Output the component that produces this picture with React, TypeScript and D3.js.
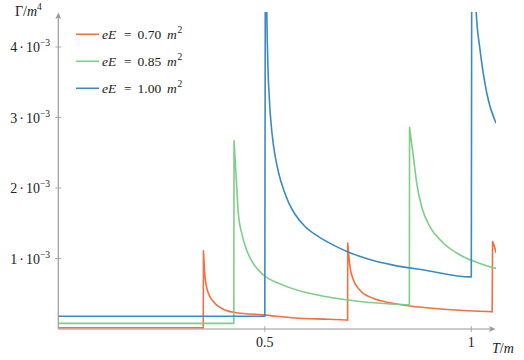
import React from "react";
import * as d3 from "d3";

// values in units of 1e-3 m^4 ; T in units of m
const redT = [0, 0.351, 0.3515, 0.3552, 0.3632, 0.3753, 0.3995, 0.4318, 0.4963, 0.573, 0.654, 0.698, 0.7005, 0.7008, 0.7063, 0.7143, 0.7305, 0.7627, 0.8031, 0.8516, 0.9242, 1.0048, 1.0494, 1.0505, 1.0515, 1.0545, 1.06];
const redV = [0.018, 0.018, 1.11, 0.74, 0.51, 0.39, 0.28, 0.23, 0.2, 0.156, 0.138, 0.128, 0.126, 1.22, 0.88, 0.7, 0.55, 0.435, 0.373, 0.326, 0.284, 0.255, 0.245, 0.243, 1.24, 1.2, 1.08];
const greenT = [0, 0.425, 0.4255, 0.432, 0.4358, 0.444, 0.456, 0.472, 0.496, 0.537, 0.5973, 0.646, 0.7305, 0.85, 0.8505, 0.8596, 0.8678, 0.88, 0.9, 0.932, 0.9726, 1.021, 1.06];
const greenV = [0.08, 0.08, 2.67, 2.02, 1.64, 1.36, 1.12, 0.93, 0.77, 0.64, 0.52, 0.46, 0.39, 0.34, 2.86, 2.45, 2.07, 1.73, 1.45, 1.22, 1.05, 0.93, 0.86];
const blueT = [0, 0.5, 0.502, 0.5045, 0.507, 0.5111, 0.5174, 0.5254, 0.5337, 0.5458, 0.558, 0.574, 0.598, 0.63, 0.6627, 0.703, 0.7516, 0.808, 0.892, 0.9969, 1.0, 1.002, 1.0114, 1.0211, 1.0373, 1.06];
const blueV = [0.18, 0.18, 8.0, 4.7, 3.86, 3.25, 2.78, 2.44, 2.21, 1.97, 1.79, 1.62, 1.45, 1.31, 1.2, 1.09, 0.99, 0.91, 0.83, 0.74, 0.74, 9.0, 4.55, 3.96, 3.35, 2.92];

const seriesNames = ["0.70", "0.85", "1.00"];
const seriesColors = ["#f46d43", "#7fcd86", "#3a8ac4"];
const xTicks = [0.5, 1];
const xTickLabels = ["0.5", "1"];
const yTicks = [1, 2, 3, 4];

const W = 524, H = 360;
const x = d3.scaleLinear().domain([0, 1]).range([58.3, 471.3]);
const y = d3.scaleLinear().domain([0, 1]).range([329, 258.5]);
const clipTop = 12;
const xEnd = 496;

function buildPath(ts: number[], vs: number[]): string {
  const pts = ts.map((t, i) => [t, vs[i]] as [number, number]);
  const pieces: [number, number][][] = [];
  let cur: [number, number][] = [];
  pts.forEach((p, i) => {
    if (i > 0 && p[0] - pts[i - 1][0] < 0.0025 && p[1] - pts[i - 1][1] > 0.5) {
      pieces.push(cur);
      cur = [];
    }
    cur.push(p);
  });
  pieces.push(cur);
  const gen = d3.line<[number, number]>().x(d => x(d[0])).y(d => y(d[1])).curve(d3.curveMonotoneX);
  return pieces.map((pc, i) => {
    const s = gen(pc) || "";
    return i === 0 ? s : "L" + s.slice(1);
  }).join("");
}

const ts = { fontFamily: "'Liberation Serif', 'DejaVu Serif', 'Times New Roman', serif" };

export default function App() {
  const series = [
    { t: redT, v: redV },
    { t: greenT, v: greenV },
    { t: blueT, v: blueV },
  ];
  const axisColor = "#9a9a9a";
  const fs = 14;
  return (
    <svg width={W} height={H} style={{ position: "absolute", left: 0, top: 0, background: "#fff" }}>
      <defs>
        <clipPath id="plotclip">
          <rect x={x(0)} y={clipTop} width={xEnd - x(0)} height={y(0) - clipTop + 3} />
        </clipPath>
      </defs>
      <line x1={x(0)} y1={y(0)} x2={492} y2={y(0)} stroke={axisColor} strokeWidth={1.2} />
      <path d={`M495.5,${y(0)} L489,${y(0) - 3} L490.5,${y(0)} L489,${y(0) + 3} Z`} fill={axisColor} />
      <line x1={x(0)} y1={y(0)} x2={x(0)} y2={16} stroke={axisColor} strokeWidth={1.2} />
      <path d={`M${x(0)},12.5 L${x(0) - 3},19 L${x(0)},17.5 L${x(0) + 3},19 Z`} fill={axisColor} />
      {xTicks.map((t, i) => (
        <g key={"xt" + i}>
          <line x1={x(t)} x2={x(t)} y1={y(0) - 3} y2={y(0) + 3} stroke={axisColor} strokeWidth={0.8} />
          <text x={x(t)} y={346.5} fontSize={fs} textAnchor="middle" fill="#222" style={ts}>{xTickLabels[i]}</text>
        </g>
      ))}
      {yTicks.map((v, i) => (
        <g key={"yt" + i}>
          <line x1={x(0) - 3} x2={x(0) + 3} y1={y(v)} y2={y(v)} stroke={axisColor} strokeWidth={0.8} />
          <text x={50} y={y(v) + 5} fontSize={fs} textAnchor="end" fill="#222" style={ts}>
            {v}<tspan dx={2}>·</tspan><tspan dx={2}>10</tspan><tspan dy={-6} fontSize={9.5}>−3</tspan>
          </text>
        </g>
      ))}
      <text x={15} y={16} fontSize={fs} fill="#222" style={ts}>
        Γ/<tspan fontStyle="italic">m</tspan><tspan dy={-6} fontSize={9.5}>4</tspan>
      </text>
      <text x={492} y={352.5} fontSize={14} fill="#222" fontStyle="italic" style={ts}>
        T<tspan fontStyle="normal">/</tspan>m
      </text>
      <g clipPath="url(#plotclip)">
        {series.map((s, i) => (
          <path key={"s" + i} d={buildPath(s.t, s.v)} fill="none" stroke={seriesColors[i]} strokeWidth={1.6} strokeLinejoin="round" />
        ))}
      </g>
      {seriesNames.map((n, i) => {
        const ly = 34.3 + i * 27;
        const by = ly + 4.5;
        return (
          <g key={"lg" + i} fill="#222" style={ts} fontSize={13.5}>
            <line x1={76} x2={99} y1={ly} y2={ly} stroke={seriesColors[i]} strokeWidth={1.6} />
            <text x={102} y={by} fontStyle="italic">eE</text>
            <text x={124} y={by}>=</text>
            <text x={137.5} y={by}>{n}</text>
            <text x={167} y={by} fontStyle="italic">m</text>
            <text x={177.5} y={by - 5.5} fontSize={9.5}>2</text>
          </g>
        );
      })}
    </svg>
  );
}
